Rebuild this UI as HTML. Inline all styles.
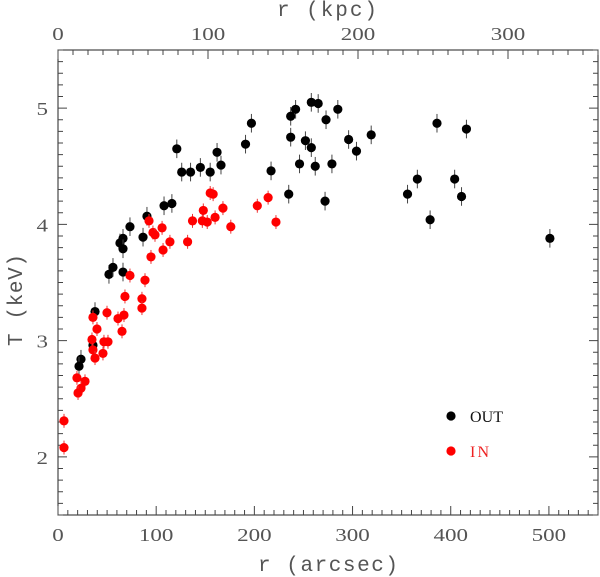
<!DOCTYPE html>
<html><head><meta charset="utf-8"><style>
html,body{margin:0;padding:0;background:#fff;}
svg{display:block;font-family:"Liberation Serif",serif;}
</style></head><body>
<svg id="chart" width="600" height="577" xmlns="http://www.w3.org/2000/svg"></svg>
<script>
const outR=[51.9,56,66.2,63.1,66.2,66.2,73.3,86.6,90.6,108,116,121,126,135,145,155,162,166,191,197,217,235,237,237,242,246,252,258,265,258,262,273,279,272,285,296,304,319,356,366,379,386,404,411,416,501,37.7,23.4,21.4,35.6];
const outT=[3.57,3.63,3.59,3.84,3.88,3.79,3.98,3.89,4.07,4.16,4.18,4.65,4.45,4.45,4.49,4.45,4.62,4.51,4.69,4.87,4.46,4.26,4.93,4.75,4.99,4.52,4.72,5.05,5.04,4.66,4.50,4.90,4.52,4.20,4.99,4.73,4.63,4.77,4.26,4.39,4.04,4.87,4.39,4.24,4.82,3.88,3.25,2.84,2.78,2.96];
const inR=[68.2,85.5,88.6,92.7,94.7,96.7,98.8,106,107,114,132,137,147,148,152,155,158,160,168,176,203,214,222,73.3,85.5,35.6,49.9,61.1,67.2,65.2,39.7,34.6,35.6,37.7,45.8,46.8,50.9,19.3,27.5,23.4,20.4,6.1,6.1];
const inT=[3.38,3.36,3.52,4.03,3.72,3.93,3.91,3.97,3.78,3.85,3.85,4.03,4.03,4.12,4.02,4.27,4.26,4.06,4.14,3.98,4.16,4.23,4.02,3.56,3.28,3.20,3.24,3.19,3.22,3.08,3.10,3.01,2.92,2.85,2.89,2.99,2.99,2.68,2.65,2.59,2.55,2.31,2.08];
const xTicks=[0,100,200,300,400,500];
const kpcTicks=[0,100,200,300];
const yTicks=[2,3,4,5];
const errOut=0.08, errIn=0.06;

const L=58,R=598,T=50,B=515;
const X=v=>L+v*(R-L)/550;
const K=v=>L+v*1.5;
const Y=v=>B-(v-1.5)*(B-T)/4;
const svg=document.getElementById('chart');
const NS='http://www.w3.org/2000/svg';
function mk(tag,a,parent){const e=document.createElementNS(NS,tag);for(const k in a)e.setAttribute(k,a[k]);(parent||svg).appendChild(e);return e;}

const frame=mk('rect',{x:L,y:T,width:R-L,height:B-T,fill:'none',stroke:'#222','stroke-width':1});



const ax=mk('g',{stroke:'#444','stroke-width':1});


for(let v=0;v<=550;v+=10){const x=X(v);const l=v%100===0?9:5;mk('line',{x1:x,x2:x,y1:B,y2:B-l},ax);}
for(let v=0;v<=360;v+=10){const x=K(v);if(x>R)break;const l=v%100===0?9:5;mk('line',{x1:x,x2:x,y1:T,y2:T+l},ax);}
for(let i=15;i<=55;i++){const v=i/10;const y=Y(v);const l=i%10===0?9:5;mk('line',{x1:L,x2:L+l,y1:y,y2:y},ax);mk('line',{x1:R,x2:R-l,y1:y,y2:y},ax);}

function lab(str,a){const t=mk('text',Object.assign({'font-size':18,fill:'#555',textLength:str.length*11.5,lengthAdjust:'spacingAndGlyphs'},a));t.textContent=str;return t;}
xTicks.forEach(v=>{const t=lab(String(v),{x:X(v),y:541,'text-anchor':'middle'});

});
kpcTicks.forEach(v=>{const t=lab(String(v),{x:K(v),y:40,'text-anchor':'middle'});

});
yTicks.forEach(v=>{const t=lab(String(v),{x:48,y:Y(v)+7,'text-anchor':'end'});

});

const TF='"Liberation Mono",monospace';
let t=mk('text',{x:328,y:571,'text-anchor':'middle','font-size':21,'font-family':TF,fill:'#555',textLength:140,lengthAdjust:'spacing'});t.textContent='r (arcsec)';


t=mk('text',{x:327,y:16,'text-anchor':'middle','font-size':21,'font-family':TF,fill:'#555',textLength:100,lengthAdjust:'spacing'});t.textContent='r (kpc)';


t=mk('text',{x:0,y:0,'text-anchor':'middle','font-size':21,'font-family':TF,fill:'#555',textLength:92,lengthAdjust:'spacing',transform:'translate(22,300) rotate(-90)'});t.textContent='T (keV)';



function series(rs,ts,err,col,name){
  const g=mk('g',{});
  
  
  rs.forEach((r,i)=>{
    const l=mk('line',{x1:X(r),x2:X(r),y1:Y(ts[i]+err),y2:Y(ts[i]-err),stroke:col==='#000'?'#444':'#e33','stroke-width':1},g);
    
    
    const c=mk('circle',{cx:X(r),cy:Y(ts[i]),r:4.6,fill:col},g);
    
    
  });
}
series(outR,outT,errOut,'#000','series-out');
series(inR,inT,errIn,'#f00','series-in');

const lg=mk('g',{});


let c=mk('circle',{cx:451,cy:416,r:4.6,fill:'#000'},lg);


t=mk('text',{x:470,y:422,'font-size':16,fill:'#111',textLength:33,lengthAdjust:'spacing'},lg);t.textContent='OUT';


c=mk('circle',{cx:451,cy:451,r:4.6,fill:'#f00'},lg);


t=mk('text',{x:470,y:457,'font-size':16,fill:'#e22',textLength:19,lengthAdjust:'spacing'},lg);t.textContent='IN';


</script>
</body></html>
